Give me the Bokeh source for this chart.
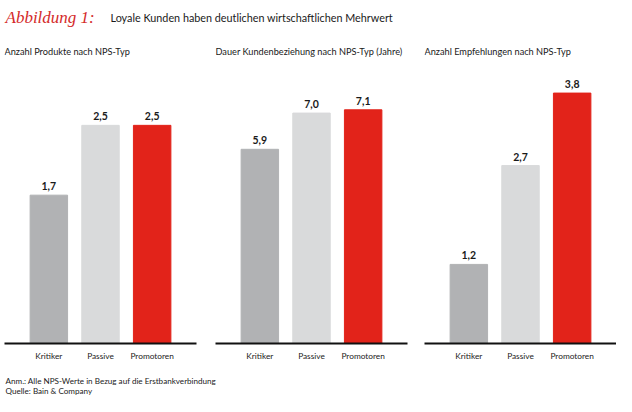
from bokeh.plotting import figure
from bokeh.models import ColumnDataSource, LabelSet, Label, Range1d, FactorRange
from bokeh.core.properties import value
from bokeh.layouts import column, row
from bokeh.embed import file_html
from bokeh.resources import INLINE

# ---- data ----
categories = ["Kritiker", "Passive", "Promotoren"]
colors = ["#b1b2b4", "#d9dadb", "#e2231a"]

panel_titles = [
    "Anzahl Produkte nach NPS-Typ",
    "Dauer Kundenbeziehung nach NPS-Typ (Jahre)",
    "Anzahl Empfehlungen nach NPS-Typ",
]
produkte = [1.7, 2.5, 2.5]
dauer = [5.9, 7.0, 7.1]
empfehlungen = [1.2, 2.7, 3.8]
panel_values = [produkte, dauer, empfehlungen]
panel_ymax = [3.61, 9.57, 4.78]

title_script = "Abbildung 1:"
title_text = "Loyale Kunden haben deutlichen wirtschaftlichen Mehrwert"
footnotes = ["Anm.: Alle NPS-Werte in Bezug auf die Erstbankverbindung",
             "Quelle: Bain & Company"]

FONT = "Lato"


def blank(w, h):
    f = figure(width=w, height=h, output_backend="svg", toolbar_location=None,
               x_range=Range1d(0, w), y_range=Range1d(0, h),
               min_border=0, outline_line_color=None)
    f.axis.visible = False
    f.grid.visible = False
    return f


# ---- header ----
HH = 28
header = blank(616, HH)
header.add_layout(Label(x=5, y=HH - 17, x_units="screen", y_units="screen",
                        text=title_script, text_font="Liberation Serif",
                        text_font_style="italic", text_font_size="17px",
                        text_color="#d42a2a", text_baseline="alphabetic"))
header.add_layout(Label(x=110, y=HH - 17, x_units="screen", y_units="screen",
                        text=title_text, text_font=FONT, text_font_size="10.8px",
                        text_color="#1a1a1a", text_baseline="alphabetic"))

# ---- panels ----
frame_w = [192, 192, 192]
borders_left = [4, 7, 5]
borders_right = [12, 12, 0]
FH = 315
panels = []
for i in range(3):
    vals = panel_values[i]
    src = ColumnDataSource(dict(
        cat=categories, val=vals, color=colors,
        lab=[f"{v:.1f}".replace(".", ",") for v in vals]))
    p = figure(frame_width=frame_w[i], frame_height=FH, output_backend="svg",
               toolbar_location=None,
               x_range=FactorRange(*categories, range_padding=0.239),
               y_range=Range1d(0, panel_ymax[i]),
               min_border_left=borders_left[i], min_border_right=borders_right[i],
               min_border_top=0, min_border_bottom=26,
               outline_line_color=None)
    p.vbar(x="cat", top="val", width=0.725, color="color", source=src)
    p.add_layout(LabelSet(x="cat", y="val", text="lab", source=src,
                          text_align="center", text_baseline="bottom",
                          y_offset=5, text_font=value(FONT),
                          text_font_style="bold",
                          text_font_size="10.5px", text_color="#1a1a1a"))
    p.add_layout(Label(x=0, y=FH - 23, x_units="screen", y_units="screen",
                       text=panel_titles[i], text_font=FONT,
                       text_font_size="9.2px", text_color="#1a1a1a",
                       text_baseline="middle"))
    p.yaxis.visible = False
    p.grid.visible = False
    ax = p.xaxis[0]
    ax.axis_line_color = "#111111"
    ax.axis_line_width = 2
    ax.major_tick_line_color = None
    ax.minor_tick_line_color = None
    ax.major_tick_out = 0
    ax.major_tick_in = 0
    ax.major_label_standoff = 7
    ax.axis_label_standoff = 0
    ax.major_label_text_font = FONT
    ax.major_label_text_font_size = "8.3px"
    ax.major_label_text_color = "#222222"
    panels.append(p)

# ---- footer ----
FTH = 27
footer = blank(616, FTH)
footer.add_layout(Label(x=5, y=15.5, x_units="screen", y_units="screen",
                        text=footnotes[0], text_font=FONT, text_font_size="8.1px",
                        text_color="#222222", text_baseline="middle"))
footer.add_layout(Label(x=5, y=6, x_units="screen", y_units="screen",
                        text=footnotes[1], text_font=FONT, text_font_size="8.1px",
                        text_color="#222222", text_baseline="middle"))

layout = column(header, row(*panels), footer)
open("out.html", "w").write(file_html(layout, INLINE))
